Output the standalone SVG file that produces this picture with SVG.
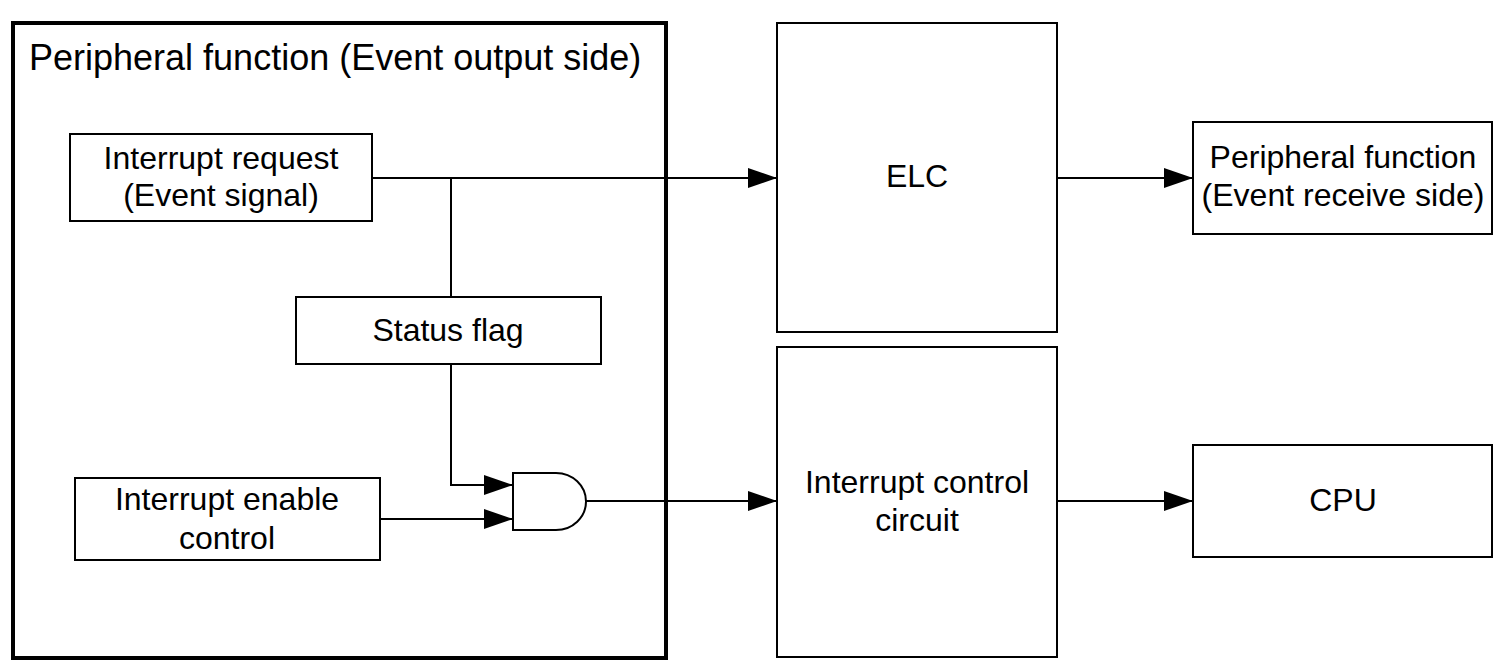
<svg xmlns="http://www.w3.org/2000/svg" width="1505" height="668" viewBox="0 0 1505 668">
<defs>
<marker id="arr" markerWidth="29" markerHeight="20" refX="29" refY="10" orient="auto" markerUnits="userSpaceOnUse">
<path d="M0,0 L29,10 L0,20 Z" fill="#000"/>
</marker>
<style>
.box{fill:#fff;stroke:#000;stroke-width:2}
.outer{fill:#fff;stroke:#000;stroke-width:4}
.t{font-family:"Liberation Sans",Arial,sans-serif;font-size:32px;fill:#000;text-anchor:middle}
.tl{font-family:"Liberation Sans",Arial,sans-serif;font-size:36px;fill:#000}
.w{fill:none;stroke:#000;stroke-width:2}
</style>
</defs>
<g id="peripheral-output">
<rect class="outer" x="13" y="23" width="653" height="635"/>
<text class="tl" x="29" y="70">Peripheral function (Event output side)</text>
</g>
<g id="interrupt-request">
<rect class="box" x="70" y="134" width="302" height="87"/>
<text class="t" x="221" y="169">Interrupt request</text>
<text class="t" x="221" y="206">(Event signal)</text>
</g>
<g id="status-flag">
<rect class="box" x="296" y="297" width="305" height="67"/>
<text class="t" x="448" y="341">Status flag</text>
</g>
<g id="interrupt-enable">
<rect class="box" x="75" y="478" width="305" height="82"/>
<text class="t" x="227" y="510">Interrupt enable</text>
<text class="t" x="227" y="549">control</text>
</g>
<g id="and-gate">
<path class="w" d="M513,473 L556,473 A30,28.5 0 0 1 556,530 L513,530 Z" fill="#fff"/>
</g>
<g id="elc">
<rect class="box" x="777" y="23" width="280" height="309"/>
<text class="t" x="917" y="187">ELC</text>
</g>
<g id="interrupt-control">
<rect class="box" x="777" y="347" width="280" height="310"/>
<text class="t" x="917" y="493">Interrupt control</text>
<text class="t" x="917" y="531">circuit</text>
</g>
<g id="peripheral-receive">
<rect class="box" x="1193" y="122" width="299" height="112"/>
<text class="t" x="1343" y="168">Peripheral function</text>
<text class="t" x="1343" y="206">(Event receive side)</text>
</g>
<g id="cpu">
<rect class="box" x="1193" y="445" width="299" height="112"/>
<text class="t" x="1343" y="511">CPU</text>
</g>
<g id="connectors">
<path class="w" d="M372,178 L777,178" marker-end="url(#arr)"/>
<path class="w" d="M451,178 L451,297"/>
<path class="w" d="M451,364 L451,485 L513,485" marker-end="url(#arr)"/>
<path class="w" d="M380,519 L513,519" marker-end="url(#arr)"/>
<path class="w" d="M586,501 L777,501" marker-end="url(#arr)"/>
<path class="w" d="M1057,178 L1193,178" marker-end="url(#arr)"/>
<path class="w" d="M1057,501 L1193,501" marker-end="url(#arr)"/>
</g>
</svg>
